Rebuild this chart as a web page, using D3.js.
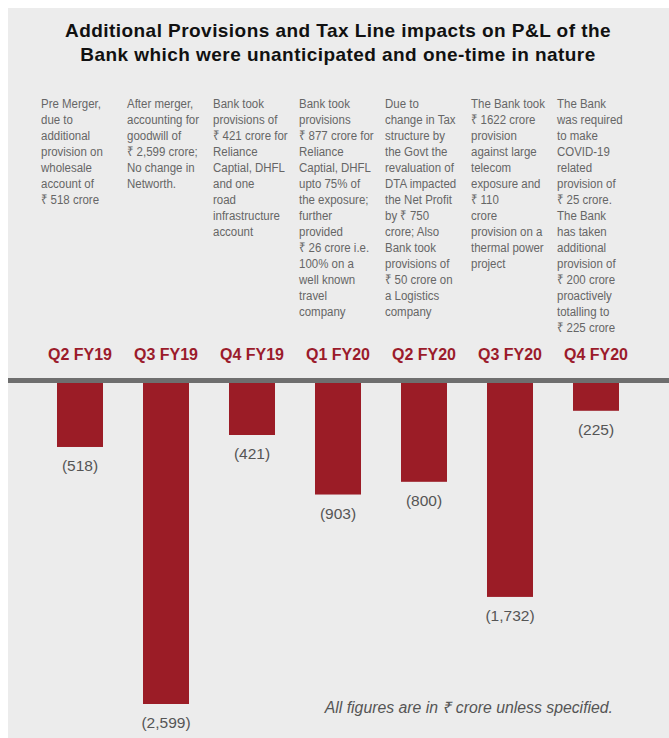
<!DOCTYPE html>
<html lang="en">
<head>
  <meta charset="UTF-8">
  <title>Additional Provisions and Tax Line impacts</title>
  <style>
    body { margin: 0; background: #fff; }
    svg { display: block; }
    .title { font-family: "Liberation Sans", Arial, sans-serif; font-weight: bold; font-size: 19px; letter-spacing: 0.45px; fill: #111; }
    .note { font-family: "Liberation Sans", Arial, sans-serif; font-size: 13.5px; fill: #666; }
    .cat { font-family: "Liberation Sans", Arial, sans-serif; font-weight: bold; font-size: 16px; fill: #9b1b2b; }
    .val { font-family: "Liberation Sans", Arial, sans-serif; font-size: 15.5px; fill: #555; }
    .foot { font-family: "Liberation Sans", Arial, sans-serif; font-style: italic; font-size: 15.8px; fill: #555; }
  </style>
</head>
<body>
  <svg id="chart" width="669" height="738"></svg>

  <script src="https://cdn.jsdelivr.net/npm/d3@7"></script>
  <script>
    // data
    const categories = ["Q2 FY19", "Q3 FY19", "Q4 FY19", "Q1 FY20", "Q2 FY20", "Q3 FY20", "Q4 FY20"];
    const values = [-518, -2599, -421, -903, -800, -1732, -225];
    const valueLabels = ["(518)", "(2,599)", "(421)", "(903)", "(800)", "(1,732)", "(225)"];
    const notes = [
      ["Pre Merger,", "due to", "additional", "provision on", "wholesale", "account of", "₹ 518 crore"],
      ["After merger,", "accounting for", "goodwill of", "₹ 2,599 crore;", "No change in", "Networth."],
      ["Bank took", "provisions of", "₹ 421 crore for", "Reliance", "Captial, DHFL", "and one", "road", "infrastructure", "account"],
      ["Bank took", "provisions", "₹ 877 crore for", "Reliance", "Captial, DHFL", "upto 75% of", "the exposure;", "further", "provided", "₹ 26 crore i.e.", "100% on a", "well known", "travel", "company"],
      ["Due to", "change in Tax", "structure by", "the Govt the", "revaluation of", "DTA impacted", "the Net Profit", "by ₹ 750", "crore; Also", "Bank took", "provisions of", "₹ 50 crore on", "a Logistics", "company"],
      ["The Bank took", "₹ 1622 crore", "provision", "against large", "telecom", "exposure and", "₹ 110", "crore", "provision on a", "thermal power", "project"],
      ["The Bank", "was required", "to make", "COVID-19", "related", "provision of", "₹ 25 crore.", "The Bank", "has taken", "additional", "provision of", "₹ 200 crore", "proactively", "totalling to", "₹ 225 crore"]
    ];
    const titleLines = [
      "Additional Provisions and Tax Line impacts on P&L of the",
      "Bank which were unanticipated and one-time in nature"
    ];
    const footnote = "All figures are in ₹ crore unless specified.";

    const svg = d3.select("#chart");

    // panel
    svg.append("rect")
      .attr("x", 8).attr("y", 8)
      .attr("width", 661).attr("height", 730)
      .attr("fill", "#ececec");

    svg.append("text")
      .attr("class", "title")
      .attr("text-anchor", "middle")
      .selectAll("tspan")
      .data(titleLines)
      .join("tspan")
      .attr("x", 338)
      .attr("y", (d, i) => 37 + i * 24)
      .text(d => d);

    const x = d3.scaleBand()
      .domain(categories)
      .range([37, 639])
      .paddingInner(0.465)
      .paddingOuter(0.2325);

    const y = d3.scaleLinear()
      .domain([0, -2599])
      .range([383, 704]);

    // description columns (squeezed a bit, the original uses a condensed face)
    svg.selectAll("text.note")
      .data(notes)
      .join("text")
      .attr("class", "note")
      .attr("transform", (d, i) => `translate(${x(categories[i]) + x.bandwidth() / 2 - 39},0) scale(0.85,1)`)
      .each(function(lines) {
        d3.select(this).selectAll("tspan")
          .data(lines)
          .join("tspan")
          .attr("x", 0)
          .attr("y", (d, j) => 108 + j * 16)
          .text(d => d);
      });

    // category labels
    svg.selectAll("text.cat")
      .data(categories)
      .join("text")
      .attr("class", "cat")
      .attr("text-anchor", "middle")
      .attr("x", d => x(d) + x.bandwidth() / 2)
      .attr("y", 360)
      .text(d => d);

    // zero line
    svg.append("line")
      .attr("x1", 8).attr("x2", 669)
      .attr("y1", y(0) - 2.5).attr("y2", y(0) - 2.5)
      .attr("stroke", "#6e6e6e")
      .attr("stroke-width", 5);

    // bars
    svg.selectAll("rect.bar")
      .data(values)
      .join("rect")
      .attr("class", "bar")
      .attr("x", (d, i) => x(categories[i]))
      .attr("y", y(0))
      .attr("width", x.bandwidth())
      .attr("height", d => y(d) - y(0))
      .attr("fill", "#9b1c26");

    svg.selectAll("text.val")
      .data(values)
      .join("text")
      .attr("class", "val")
      .attr("text-anchor", "middle")
      .attr("x", (d, i) => x(categories[i]) + x.bandwidth() / 2)
      .attr("y", d => y(d) + 24)
      .text((d, i) => valueLabels[i]);

    svg.append("text")
      .attr("class", "foot")
      .attr("text-anchor", "end")
      .attr("x", 613)
      .attr("y", 713)
      .text(footnote);
  </script>
</body>
</html>
